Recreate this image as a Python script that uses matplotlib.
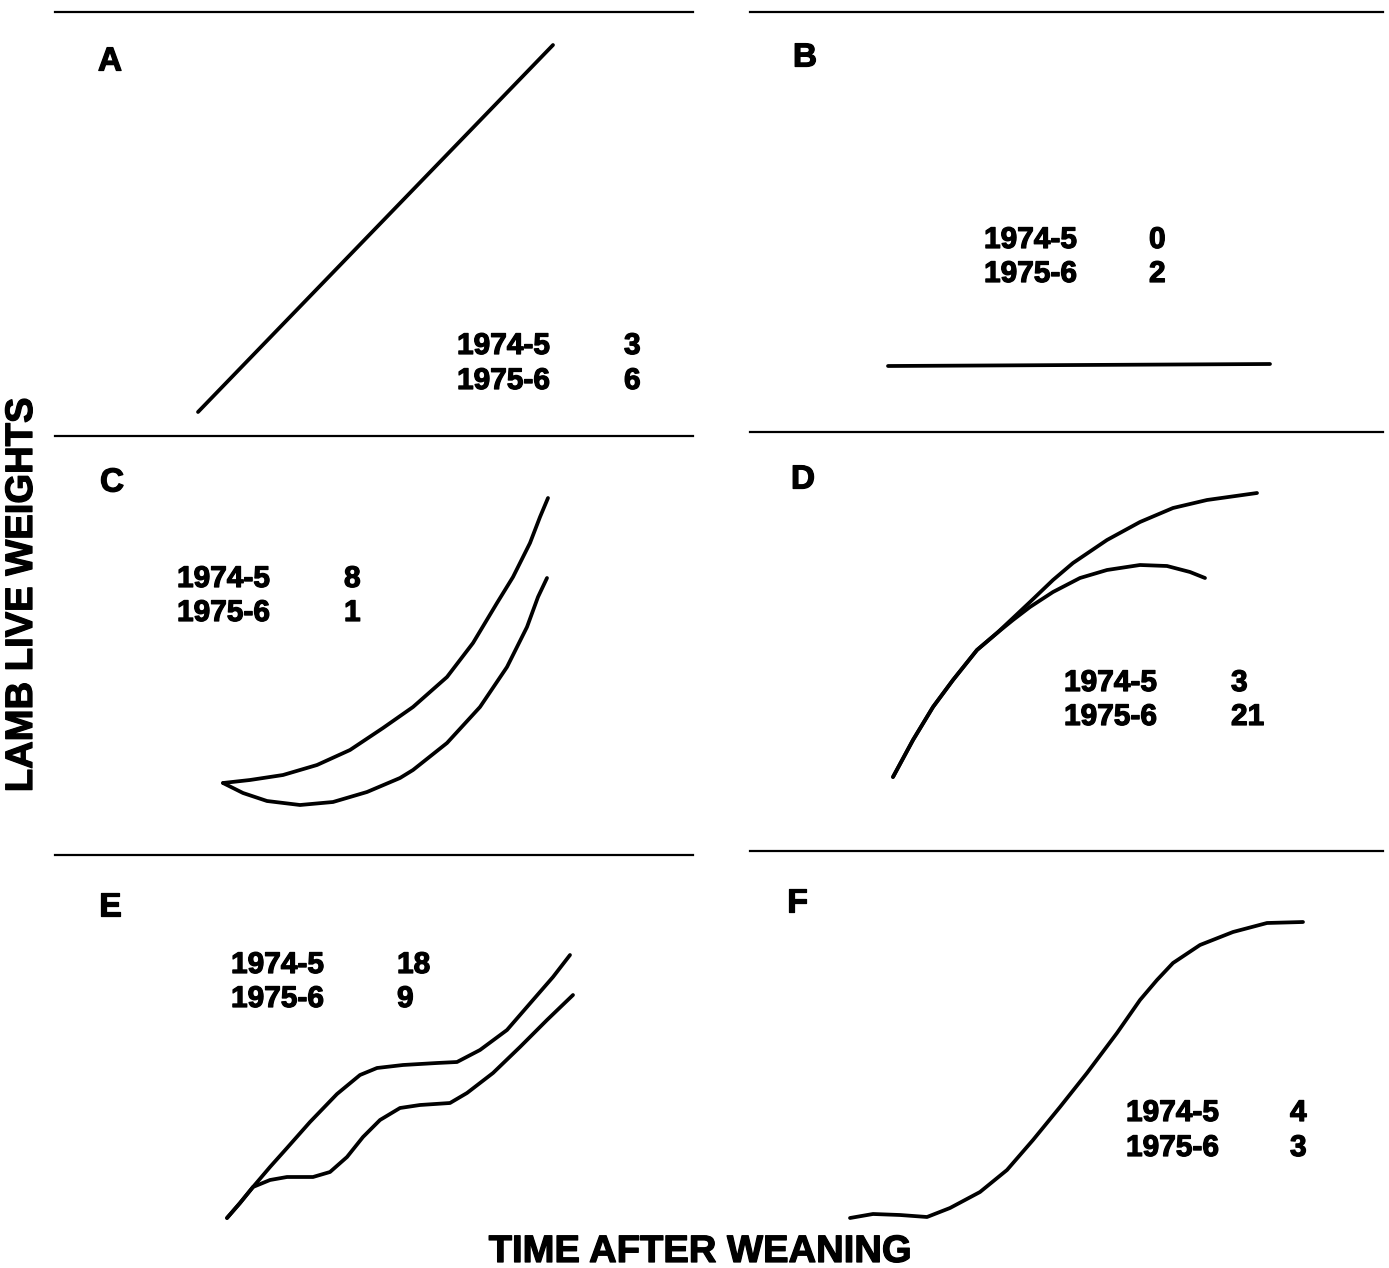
import matplotlib
matplotlib.use("Agg")
import matplotlib.pyplot as plt
import matplotlib.patheffects as pe

W, H = 1389, 1268
plt.rcParams['font.family'] = ['Liberation Sans', 'DejaVu Sans']

# ---- data (arbitrary time / weight units) ----
panel_labels = ["A", "B", "C", "D", "E", "F"]
years = ["1974-5", "1975-6"]
counts = {"A": ["3", "6"], "B": ["0", "2"], "C": ["8", "1"],
          "D": ["3", "21"], "E": ["18", "9"], "F": ["4", "3"]}

a_x = [143, 498]
a_y = [20, 387]

b_x = [138, 520]
b_y = [66, 68]

c_upper_x = [168, 195, 228, 262, 295, 328, 358, 392, 418, 442, 458, 475, 485, 493]
c_upper_y = [68, 71, 76, 86, 101, 123, 144, 174, 208, 248, 274, 308, 334, 353]
c_lower_x = [168, 188, 212, 245, 278, 312, 345, 358, 392, 425, 452, 472, 483, 492]
c_lower_y = [68, 58, 50, 46, 49, 59, 73, 81, 108, 144, 184, 224, 254, 273]

d_upper_x = [143, 163, 183, 203, 227, 247, 263, 280, 303, 323, 357, 390, 423, 457, 507]
d_upper_y = [74, 111, 144, 171, 201, 218, 233, 249, 271, 288, 311, 329, 343, 351, 358]
d_lower_x = [143, 163, 183, 203, 227, 247, 263, 280, 303, 330, 357, 390, 417, 440, 455]
d_lower_y = [74, 111, 144, 171, 201, 218, 231, 244, 259, 273, 281, 286, 285, 279, 273]

e_upper_x = [172, 185, 198, 215, 232, 255, 282, 305, 322, 348, 382, 402, 425, 452, 478, 498, 515]
e_upper_y = [22, 37, 53, 73, 92, 118, 146, 165, 172, 175, 177, 178, 190, 210, 240, 263, 285]
e_lower_x = [172, 185, 198, 215, 232, 258, 275, 292, 308, 325, 345, 365, 395, 412, 438, 465, 492, 518]
e_lower_y = [22, 37, 53, 60, 63, 63, 68, 83, 103, 120, 132, 135, 137, 147, 167, 193, 220, 245]

f_x = [100, 123, 150, 177, 200, 230, 257, 283, 310, 337, 367, 390, 407, 423, 450, 483, 517, 553]
f_y = [22, 26, 25, 23, 32, 48, 70, 100, 133, 167, 207, 240, 260, 277, 295, 308, 317, 318]

curves = {
    "A": [(a_x, a_y)],
    "B": [(b_x, b_y)],
    "C": [(c_upper_x, c_upper_y), (c_lower_x, c_lower_y)],
    "D": [(d_upper_x, d_upper_y), (d_lower_x, d_lower_y)],
    "E": [(e_upper_x, e_upper_y), (e_lower_x, e_lower_y)],
    "F": [(f_x, f_y)],
}

# ---- layout (pixels) ----
boxes = {  # left, right, top, bottom
    "A": (55, 693, 12, 432),
    "B": (750, 1383, 12, 432),
    "C": (55, 693, 436, 851),
    "D": (750, 1383, 432, 851),
    "E": (55, 693, 855, 1240),
    "F": (750, 1383, 851, 1240),
}
letter_pos = {"A": (110, 62), "B": (805, 58), "C": (112, 483),
              "D": (803, 480), "E": (110, 907), "F": (797, 903)}
legend_pos = {  # year-column left x, number-column left x, first-row y, second-row y
    "A": (457, 624, 346, 381),
    "B": (984, 1149, 240, 274),
    "C": (177, 344, 579, 613),
    "D": (1064, 1231, 683, 717),
    "E": (231, 397, 965, 999),
    "F": (1126, 1290, 1113, 1148),
}

fig = plt.figure(figsize=(W / 100, H / 100), dpi=100)
fig.patch.set_facecolor("white")
heavy = [pe.withStroke(linewidth=0.9, foreground="black")]


def fx(px):
    return px / W


def fy(py):
    return 1 - py / H


for lab in panel_labels:
    l, r, t, b = boxes[lab]
    ax = fig.add_axes([fx(l), fy(b), (r - l) / W, (b - t) / H])
    ax.set_xlim(0, r - l)
    ax.set_ylim(0, b - t)
    for s in ["left", "right", "bottom"]:
        ax.spines[s].set_visible(False)
    ax.spines["top"].set_linewidth(1.6)
    ax.set_xticks([])
    ax.set_yticks([])
    ax.patch.set_alpha(0)
    for xs, ys in curves[lab]:
        ax.plot(xs, ys, color="black", lw=2.7, solid_capstyle="round",
                solid_joinstyle="round", clip_on=False)

    lx, ly = letter_pos[lab]
    fig.text(fx(lx), fy(ly), lab, fontsize=24, fontweight="bold",
             ha="center", va="center", path_effects=heavy)
    yx, nx, y1, y2 = legend_pos[lab]
    for yr, cnt, yy in zip(years, counts[lab], (y1, y2)):
        fig.text(fx(yx), fy(yy), yr, fontsize=21.5, fontweight="bold",
                 ha="left", va="center", path_effects=heavy)
        fig.text(fx(nx), fy(yy), cnt, fontsize=21.5, fontweight="bold",
                 ha="left", va="center", path_effects=heavy)

fig.text(fx(700), fy(1252), "TIME AFTER WEANING", fontsize=27.5,
         fontweight="bold", ha="center", va="center", path_effects=heavy)
fig.text(fx(22), fy(595), "LAMB LIVE WEIGHTS", fontsize=27.5,
         fontweight="bold", ha="center", va="center", rotation=90,
         path_effects=heavy)

fig.savefig("out.png", dpi=100, facecolor="white")
